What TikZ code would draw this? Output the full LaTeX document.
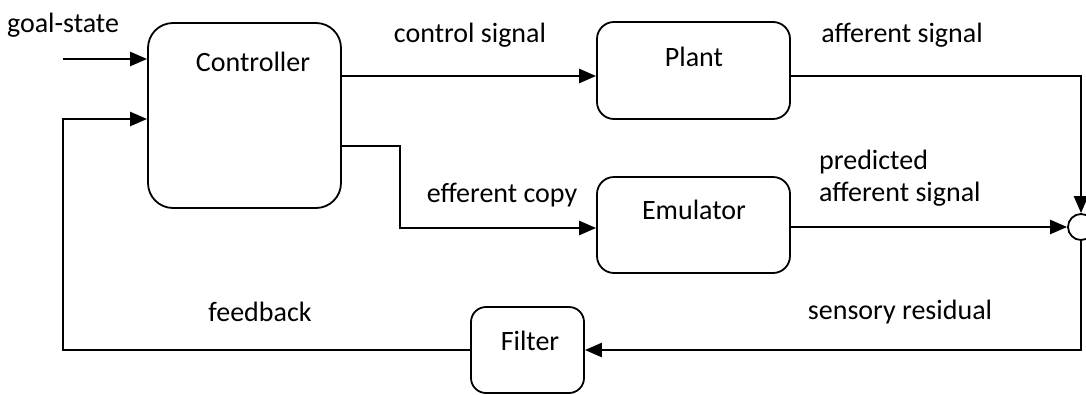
\documentclass[tikz,border=0pt]{standalone}
\usepackage{fontspec}
\setmainfont{Carlito}
\usetikzlibrary{arrows.meta}
\begin{document}
\begin{tikzpicture}[x=1pt,y=-1pt,
  box/.style={draw, line width=1.8pt, rounded corners=#1, inner sep=0pt},
  lbl/.style={font=\fontsize{28}{33}\selectfont, inner sep=0pt},
  conn/.style={line width=2.4pt},
  arr/.style={conn, -{Triangle[length=17pt,width=14pt]}}]
\useasboundingbox (0,0) rectangle (1086,394);
% boxes
\node[box=25pt, minimum width=193pt, minimum height=185pt] (ctrl) at (244.5,115.5) {};
\node[box=17pt, minimum width=193pt, minimum height=97pt] (plant) at (693.5,70.5) {};
\node[box=17pt, minimum width=193pt, minimum height=96pt] (emu) at (693.5,225) {};
\node[box=15pt, minimum width=113pt, minimum height=86pt] (filt) at (527.5,350) {};
\node[draw, circle, line width=1.8pt, minimum size=26pt, inner sep=0pt] (sum) at (1081,227) {};
% box texts
\node[lbl] (tctrl) at (253,62) {Controller};
\node[lbl] (tplant) at (694,57) {Plant};
\node[lbl] (temu) at (694,210) {Emulator};
\node[lbl] (tfilt) at (530,341) {Filter};
% labels
\node[lbl] (lgoal) at (63,25) {goal-state};
\node[lbl] (lctrl) at (470,35) {control signal};
\node[lbl] (laff) at (902,35) {afferent signal};
\node[lbl] (leff) at (502,195) {efferent copy};
\node[lbl, anchor=west] (lpred1) at (819,162) {predicted};
\node[lbl, anchor=west] (lpred2) at (819,194) {afferent signal};
\node[lbl] (lfb) at (260,312) {feedback};
\node[lbl] (lres) at (900,312) {sensory residual};
% coordinates
\coordinate (gs) at (63,59);
\coordinate (fb) at (63,119);
\coordinate (ycs) at (0,76);
\coordinate (yeff) at (0,146);
\coordinate (xeff) at (400,0);
\coordinate (yemu) at (0,228);
% connectors
\draw[arr] (gs) -- (ctrl.west |- gs);
\draw[arr] (ctrl.east |- ycs) -- (plant.west |- ycs);
\draw[arr] (ctrl.east |- yeff) -- (xeff |- yeff) -- (xeff |- yemu) -- (emu.west |- yemu);
\draw[arr] (plant.east |- ycs) -- (sum.north |- ycs) -- (sum.north);
\draw[arr] (emu.east |- sum.west) -- (sum.west);
\draw[arr] (sum.south) -- (sum.south |- filt.east) -- (filt.east);
\draw[arr] (filt.west) -- (filt.west -| fb) -- (fb) -- (ctrl.west |- fb);
\end{tikzpicture}
\end{document}
